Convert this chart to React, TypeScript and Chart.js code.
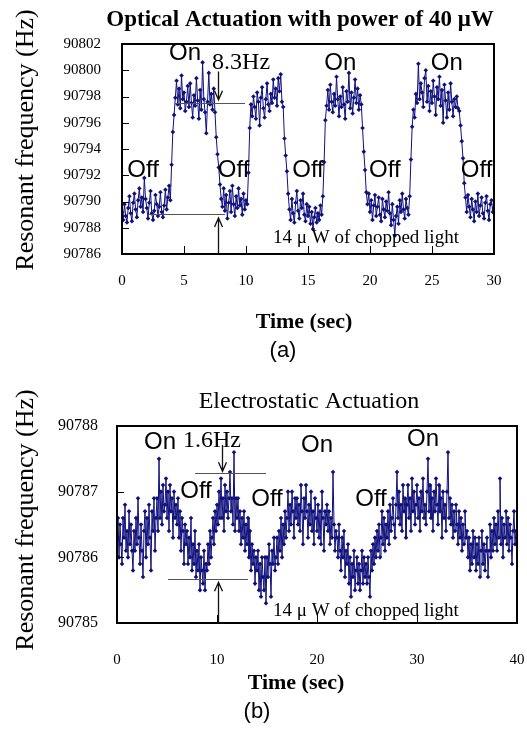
import React, { useEffect, useRef } from "react";
import { Chart, registerables } from "chart.js";

Chart.register(...registerables);

const SERIF = '"Liberation Serif", "Times New Roman", serif';
const SANS = '"Liberation Sans", Arial, sans-serif';
const NAVY = "#10107c";

// ---------- (a) Optical actuation ----------
const topTitle = "Optical Actuation with power of 40 \u03bcW";
const topSampleStep = 0.1; // seconds between samples
const topXTicks = [0, 5, 10, 15, 20, 25, 30];
const topYTicks = [90786, 90788, 90790, 90792, 90794, 90796, 90798, 90800, 90802];
const topFrequency = [
  90789.2, 90788.6, 90789.8, 90788.9, 90788.4, 90789.5, 90790.4, 90789.1, 90788.5, 90789.9,
  90790.6, 90789.4, 90788.8, 90790.1, 90791.0, 90789.6, 90790.3, 90789.2, 90791.8, 90790.2,
  90789.5, 90788.7, 90789.9, 90790.8, 90789.1, 90788.6, 90789.3, 90790.5, 90789.8, 90788.9,
  90789.6, 90790.7, 90789.2, 90788.8, 90789.7, 90790.9, 90789.4, 90790.3, 90791.2, 90790.1,
  90792.8, 90795.3, 90796.6, 90797.9, 90799.2, 90797.4, 90798.6, 90797.1, 90799.6, 90797.8,
  90798.3, 90796.9, 90797.6, 90798.8, 90797.2, 90799.0, 90797.5, 90796.4, 90798.1, 90797.3,
  90799.4, 90797.7, 90796.3, 90798.5, 90797.0, 90800.6, 90797.8, 90796.8, 90795.2, 90797.6,
  90799.8, 90797.4, 90798.2, 90797.0, 90798.6, 90796.8, 90794.9, 90793.6, 90792.6, 90791.3,
  90790.2, 90789.6, 90791.0, 90789.3, 90790.5, 90788.7, 90789.9, 90790.8, 90789.2, 90791.2,
  90789.8, 90788.9, 90790.4, 90789.5, 90791.0, 90789.7, 90790.2, 90789.0, 90790.6, 90789.4,
  90790.1, 90789.8, 90792.2, 90795.6, 90797.4, 90796.5, 90798.0, 90797.2, 90796.3, 90798.3,
  90797.6, 90795.8, 90797.9, 90798.7, 90797.1, 90796.4, 90797.8, 90799.0, 90797.4, 90796.9,
  90798.2, 90797.5, 90799.3, 90797.9, 90798.6, 90797.3, 90799.4, 90798.4, 90799.7, 90797.6,
  90797.2, 90794.8, 90793.5, 90792.3, 90790.6, 90789.4, 90788.6, 90790.2, 90789.1, 90788.4,
  90789.9, 90790.8, 90789.3, 90788.7, 90790.1, 90789.5, 90790.6, 90789.0, 90788.5, 90789.8,
  90788.9, 90789.6, 90788.3, 90789.2, 90787.9, 90788.8, 90789.5, 90788.4, 90789.1, 90788.6,
  90789.7, 90789.0, 90790.4, 90793.0, 90796.2, 90797.3, 90798.5, 90797.0, 90798.9, 90797.6,
  90796.8, 90798.2, 90797.3, 90799.5, 90797.8, 90796.5, 90798.0, 90797.2, 90798.7, 90797.4,
  90796.3, 90798.4, 90797.6, 90799.8, 90797.1, 90798.3, 90796.7, 90797.9, 90799.3, 90797.5,
  90798.6, 90797.0, 90798.1, 90797.4, 90795.6, 90793.8, 90792.4, 90790.7, 90789.8, 90790.6,
  90789.2, 90790.1, 90788.6, 90789.7, 90790.5, 90788.9, 90789.6, 90790.3, 90789.0, 90788.5,
  90790.2, 90789.4, 90788.8, 90790.0, 90789.3, 90790.7, 90789.1, 90788.2, 90789.8, 90788.6,
  90787.4, 90788.9, 90789.6, 90788.3, 90790.1, 90789.2, 90790.6, 90789.4, 90788.7, 90790.2,
  90789.5, 90789.0, 90790.4, 90793.2, 90795.7, 90797.0, 90796.4, 90798.2, 90797.5, 90800.5,
  90797.8, 90799.0, 90798.3, 90797.2, 90799.4, 90800.0, 90797.6, 90798.8, 90796.9, 90798.4,
  90797.5, 90799.2, 90798.0, 90796.6, 90798.7, 90797.8, 90799.5, 90797.3, 90798.5, 90796.0,
  90798.9, 90797.7, 90796.4, 90798.3, 90797.0, 90799.0, 90797.6, 90796.5, 90797.8, 90797.2,
  90798.0, 90797.1, 90796.9, 90795.8, 90794.6, 90793.3, 90791.4, 90790.3, 90789.2, 90790.5,
  90789.6, 90788.8, 90790.2, 90789.4, 90788.5, 90790.0, 90789.2, 90790.6, 90788.9, 90789.7,
  90790.3, 90789.1, 90788.7, 90789.9, 90790.4, 90789.3, 90788.6, 90789.8, 90790.1, 90789.2,
  90789.5,
];
const topStateLabels = [
  { text: "On", t: 5.08, f: 90801.3 },
  { text: "On", t: 17.6, f: 90800.5 },
  { text: "On", t: 26.2, f: 90800.5 },
  { text: "Off", t: 1.7, f: 90792.4 },
  { text: "Off", t: 9.0, f: 90792.4 },
  { text: "Off", t: 15.0, f: 90792.4 },
  { text: "Off", t: 21.2, f: 90792.4 },
  { text: "Off", t: 28.6, f: 90792.4 },
];
const topShift = { text: "8.3Hz", t: 9.6, f: 90800.6 };
const topLevelLines = [
  { t0: 4.27, t1: 9.92, f: 90797.5 },
  { t0: 2.2, t1: 8.3, f: 90789.05 },
];
const topArrows = [
  { t: 7.74, from: 90799.9, to: 90797.75 },
  { t: 7.74, from: 90786.05, to: 90788.75 },
];
const topNote = { text: "14 \u03bc W of chopped light", t: 12.18, f: 90787.2 };

// ---------- (b) Electrostatic actuation ----------
const bottomTitle = "Electrostatic Actuation";
const bottomSampleStep = 0.1;
const bottomXTicks = [0, 10, 20, 30, 40];
const bottomYTicks = [90785, 90786, 90787, 90788];
const bottomFrequency = [
  90786.3, 90786.6, 90786.0, 90786.5, 90786.2, 90785.9, 90786.6, 90786.3, 90786.8, 90786.1,
  90786.4, 90786.0, 90786.7, 90786.2, 90786.5, 90786.1, 90785.8, 90786.4, 90786.1, 90786.6,
  90786.2, 90786.9, 90786.3, 90785.9, 90786.5, 90786.1, 90785.7, 90786.4, 90786.7, 90786.0,
  90786.6, 90786.2, 90786.8, 90786.3, 90785.8, 90786.7, 90786.4, 90786.9, 90786.1, 90786.6,
  90786.9, 90786.4, 90787.5, 90786.6, 90787.0, 90786.5, 90787.1, 90786.7, 90786.8, 90787.2,
  90786.6, 90787.0, 90786.4, 90787.1, 90786.7, 90786.9, 90786.3, 90787.0, 90786.6, 90786.8,
  90786.5, 90786.9, 90786.3, 90786.7, 90786.1, 90786.6, 90786.4, 90785.9, 90786.5, 90786.2,
  90786.4, 90785.9, 90786.3, 90786.0, 90786.6, 90785.8, 90786.2, 90785.9, 90786.4, 90785.7,
  90786.1, 90785.8, 90786.2, 90785.5, 90786.0, 90785.8, 90785.6, 90786.1, 90785.5, 90785.9,
  90785.8, 90786.2, 90785.9, 90786.4, 90786.0, 90786.3, 90786.6, 90786.2, 90786.7, 90786.4,
  90786.8, 90786.5, 90787.0, 90786.6, 90787.2, 90786.6, 90786.9, 90786.4, 90787.1, 90786.7,
  90787.0, 90786.6, 90786.9, 90787.3, 90786.7, 90786.9, 90786.5, 90787.6, 90786.4, 90786.9,
  90786.6, 90786.9, 90786.4, 90786.7, 90786.2, 90786.6, 90786.3, 90786.7, 90786.1, 90786.5,
  90786.2, 90786.6, 90786.0, 90786.4, 90785.8, 90786.2, 90785.9, 90786.1, 90785.6, 90786.0,
  90785.8, 90786.1, 90785.5, 90785.9, 90785.4, 90786.0, 90785.7, 90785.5, 90786.0, 90785.3,
  90786.0, 90785.7, 90786.2, 90785.9, 90785.4, 90786.1, 90785.9, 90786.3, 90785.8, 90786.0,
  90786.3, 90785.9, 90786.4, 90786.1, 90786.6, 90786.0, 90786.5, 90786.2, 90786.7, 90786.3,
  90786.6, 90787.0, 90786.4, 90786.8, 90786.5, 90787.0, 90786.7, 90786.3, 90786.9, 90786.6,
  90786.9, 90786.5, 90786.8, 90786.4, 90787.1, 90786.7, 90786.2, 90786.9, 90786.6, 90787.1,
  90786.7, 90786.3, 90786.8, 90786.5, 90787.0, 90786.4, 90786.7, 90786.2, 90786.9, 90786.6,
  90786.4, 90786.8, 90786.3, 90786.7, 90786.2, 90787.0, 90786.6, 90786.1, 90786.7, 90786.5,
  90786.8, 90786.4, 90786.7, 90786.2, 90786.6, 90786.3, 90787.3, 90786.5, 90786.1, 90786.4,
  90786.3, 90786.0, 90786.5, 90786.1, 90785.8, 90786.3, 90786.0, 90786.4, 90785.7, 90786.1,
  90785.9, 90786.2, 90785.6, 90786.0, 90785.4, 90785.9, 90785.7, 90786.1, 90785.5, 90785.8,
  90786.0, 90785.6, 90785.9, 90785.5, 90785.8, 90786.1, 90785.6, 90786.0, 90785.7, 90785.9,
  90785.6, 90786.0, 90785.7, 90785.4, 90786.1, 90785.8, 90786.2, 90785.9, 90786.3, 90786.0,
  90786.4, 90786.1, 90786.5, 90786.0, 90786.3, 90786.7, 90786.2, 90786.6, 90786.1, 90786.5,
  90786.3, 90786.7, 90786.2, 90786.8, 90786.4, 90786.6, 90786.9, 90786.5, 90786.3, 90786.8,
  90787.3, 90786.6, 90787.0, 90786.5, 90786.8, 90786.4, 90787.1, 90786.7, 90786.9, 90786.3,
  90786.8, 90787.1, 90786.6, 90786.9, 90786.4, 90787.2, 90786.7, 90787.0, 90786.5, 90786.8,
  90787.1, 90786.6, 90786.9, 90786.4, 90787.0, 90786.7, 90787.2, 90786.6, 90786.8, 90786.5,
  90787.0, 90787.5, 90786.7, 90787.1, 90786.6, 90786.9, 90786.4, 90787.0, 90786.7, 90787.2,
  90786.8, 90786.5, 90787.1, 90786.7, 90786.9, 90786.3, 90787.0, 90786.6, 90786.8, 90786.4,
  90787.0, 90787.6, 90786.6, 90786.9, 90786.5, 90786.8, 90786.3, 90786.7, 90786.4, 90786.8,
  90786.5, 90786.2, 90786.7, 90786.3, 90786.6, 90786.1, 90786.5, 90786.2, 90786.7, 90786.3,
  90786.4, 90786.0, 90786.3, 90785.8, 90786.2, 90785.9, 90786.4, 90786.0, 90786.3, 90785.8,
  90786.2, 90785.9, 90786.3, 90785.7, 90786.1, 90786.4, 90785.9, 90786.2, 90785.8, 90786.1,
  90786.3, 90785.7, 90786.1, 90786.5, 90786.0, 90786.4, 90786.1, 90786.6, 90786.2, 90786.5,
  90786.1, 90786.7, 90786.3, 90787.2, 90786.2, 90786.6, 90786.0, 90786.5, 90786.3, 90786.7,
  90786.2, 90786.6, 90786.1, 90786.5, 90786.3, 90785.9, 90786.4, 90786.7, 90786.2, 90786.4,
  90786.3,
];
const bottomStateLabels = [
  { text: "On", t: 4.3, f: 90787.75 },
  { text: "On", t: 20.0, f: 90787.71 },
  { text: "On", t: 30.6, f: 90787.8 },
  { text: "Off", t: 7.9, f: 90787.0 },
  { text: "Off", t: 15.0, f: 90786.89 },
  { text: "Off", t: 25.4, f: 90786.89 },
];
const bottomShift = { text: "1.6Hz", t: 9.5, f: 90787.77 };
const bottomLevelLines = [
  { t0: 7.8, t1: 14.9, f: 90787.28 },
  { t0: 5.1, t1: 13.1, f: 90785.67 },
];
const bottomArrows = [
  { t: 10.5, from: 90787.71, to: 90787.31 },
  { t: 10.1, from: 90785.0, to: 90785.62 },
];
const bottomNote = { text: "14 \u03bc W of chopped light", t: 15.6, f: 90785.18 };

const yAxisTitle = "Resonant frequency (Hz)";
const xAxisTitle = "Time (sec)";

type Panel = {
  width: number;
  height: number;
  values: number[];
  step: number;
  xMin: number;
  xMax: number;
  xStep: number;
  yMin: number;
  yMax: number;
  yStep: number;
  xTickMarks: number[];
  yTickMarks: number[];
  padding: { left: number; right: number; top: number; bottom: number };
  yAxisWidth: number;
  xAxisHeight: number;
  xTickPad: number;
  yTickPad: number;
  xTickSize: number;
  yTickSize: number;
  stateLabels: { text: string; t: number; f: number }[];
  shift: { text: string; t: number; f: number };
  levelLines: { t0: number; t1: number; f: number }[];
  arrows: { t: number; from: number; to: number }[];
  note: { text: string; t: number; f: number };
  texts: { text: string; x: number; y: number; font: string; rotate?: boolean }[];
};

const topPanel: Panel = {
  width: 527,
  height: 370,
  values: topFrequency,
  step: topSampleStep,
  xMin: topXTicks[0],
  xMax: topXTicks[topXTicks.length - 1],
  xStep: 5,
  yMin: topYTicks[0],
  yMax: topYTicks[topYTicks.length - 1],
  yStep: 2,
  xTickMarks: topXTicks.slice(1, -1),
  yTickMarks: topYTicks.slice(1, -1),
  padding: { left: 0, right: 33, top: 44, bottom: 0 },
  yAxisWidth: 122,
  xAxisHeight: 116,
  xTickPad: 18,
  yTickPad: 21,
  xTickSize: 15,
  yTickSize: 15,
  stateLabels: topStateLabels,
  shift: topShift,
  levelLines: topLevelLines,
  arrows: topArrows,
  note: topNote,
  texts: [
    { text: topTitle, x: 300, y: 20, font: `bold 23px ${SERIF}` },
    { text: yAxisTitle, x: 26, y: 140, font: `26px ${SERIF}`, rotate: true },
    { text: xAxisTitle, x: 304, y: 322, font: `bold 22px ${SERIF}` },
    { text: "(a)", x: 283, y: 351, font: `22px ${SANS}` },
  ],
};

const bottomPanel: Panel = {
  width: 527,
  height: 361,
  values: bottomFrequency,
  step: bottomSampleStep,
  xMin: bottomXTicks[0],
  xMax: bottomXTicks[bottomXTicks.length - 1],
  xStep: 10,
  yMin: bottomYTicks[0],
  yMax: bottomYTicks[bottomYTicks.length - 1],
  yStep: 1,
  xTickMarks: bottomXTicks.slice(1, -1),
  yTickMarks: bottomYTicks.slice(1, -1),
  padding: { left: 0, right: 10, top: 56, bottom: 0 },
  yAxisWidth: 117,
  xAxisHeight: 108,
  xTickPad: 28,
  yTickPad: 19,
  xTickSize: 15,
  yTickSize: 16,
  stateLabels: bottomStateLabels,
  shift: bottomShift,
  levelLines: bottomLevelLines,
  arrows: bottomArrows,
  note: bottomNote,
  texts: [
    { text: bottomTitle, x: 309, y: 32, font: `24px ${SERIF}` },
    { text: yAxisTitle, x: 26, y: 150, font: `26px ${SERIF}`, rotate: true },
    { text: xAxisTitle, x: 296, y: 313, font: `bold 22px ${SERIF}` },
    { text: "(b)", x: 257, y: 342, font: `22px ${SANS}` },
  ],
};

function decorPlugin(p: Panel) {
  return {
    id: "decor",
    afterDatasetsDraw(chart: any) {
      const { ctx, chartArea: a, scales } = chart;
      const xs = scales.x;
      const ys = scales.y;
      const X = (t: number) => xs.getPixelForValue(t);
      const Y = (f: number) => ys.getPixelForValue(f);
      ctx.save();
      // inward tick marks
      ctx.strokeStyle = "#000";
      ctx.lineWidth = 1;
      ctx.beginPath();
      for (const t of p.xTickMarks) {
        const px = Math.round(X(t)) + 0.5;
        ctx.moveTo(px, a.bottom);
        ctx.lineTo(px, a.bottom - 8);
      }
      for (const f of p.yTickMarks) {
        const py = Math.round(Y(f)) + 0.5;
        ctx.moveTo(a.left, py);
        ctx.lineTo(a.left + 7, py);
      }
      ctx.stroke();
      // frame
      ctx.lineWidth = 2;
      ctx.strokeRect(a.left, a.top, a.right - a.left, a.bottom - a.top);
      // level lines
      ctx.strokeStyle = "#555";
      ctx.lineWidth = 1.2;
      ctx.beginPath();
      for (const l of p.levelLines) {
        const py = Math.round(Y(l.f)) + 0.5;
        ctx.moveTo(X(l.t0), py);
        ctx.lineTo(X(l.t1), py);
      }
      ctx.stroke();
      // arrows
      ctx.strokeStyle = "#111";
      ctx.lineWidth = 1.3;
      for (const ar of p.arrows) {
        const px = Math.round(X(ar.t)) + 0.5;
        const y0 = Y(ar.from);
        const y1 = Y(ar.to);
        const dir = y1 > y0 ? 1 : -1;
        ctx.beginPath();
        ctx.moveTo(px, y0);
        ctx.lineTo(px, y1);
        ctx.moveTo(px - 4, y1 - dir * 9);
        ctx.lineTo(px, y1);
        ctx.lineTo(px + 4, y1 - dir * 9);
        ctx.stroke();
      }
      // labels
      ctx.fillStyle = "#000";
      ctx.textBaseline = "middle";
      ctx.textAlign = "center";
      ctx.font = `24px ${SANS}`;
      for (const s of p.stateLabels) ctx.fillText(s.text, X(s.t), Y(s.f));
      ctx.font = `24px ${SERIF}`;
      ctx.fillText(p.shift.text, X(p.shift.t), Y(p.shift.f));
      ctx.textAlign = "left";
      ctx.font = `19px ${SERIF}`;
      ctx.fillText(p.note.text, X(p.note.t), Y(p.note.f));
      ctx.restore();
    },
    afterDraw(chart: any) {
      const { ctx } = chart;
      ctx.save();
      ctx.fillStyle = "#000";
      ctx.textAlign = "center";
      ctx.textBaseline = "middle";
      for (const t of p.texts) {
        ctx.font = t.font;
        if (t.rotate) {
          ctx.save();
          ctx.translate(t.x, t.y);
          ctx.rotate(-Math.PI / 2);
          ctx.fillText(t.text, 0, 0);
          ctx.restore();
        } else {
          ctx.fillText(t.text, t.x, t.y);
        }
      }
      ctx.restore();
    },
  };
}

function PanelChart({ panel, top }: { panel: Panel; top: number }) {
  const ref = useRef<HTMLCanvasElement | null>(null);
  useEffect(() => {
    if (!ref.current) return;
    const p = panel;
    const points = p.values.map((f, i) => ({ x: +(i * p.step).toFixed(2), y: f }));
    const chart = new Chart(ref.current, {
      type: "line",
      data: {
        datasets: [
          {
            data: points,
            borderColor: NAVY,
            backgroundColor: NAVY,
            borderWidth: 1,
            pointStyle: "rectRot",
            pointRadius: 2.3,
            pointBorderWidth: 0,
            pointBackgroundColor: NAVY,
            tension: 0,
          },
        ],
      },
      options: {
        responsive: false,
        animation: false,
        devicePixelRatio: 1,
        layout: { padding: p.padding },
        plugins: {
          legend: { display: false },
          title: { display: false },
          tooltip: { enabled: false },
        },
        scales: {
          x: {
            type: "linear",
            min: p.xMin,
            max: p.xMax,
            grid: { display: false, drawTicks: false },
            border: { display: false },
            ticks: {
              stepSize: p.xStep,
              padding: p.xTickPad,
              color: "#000",
              font: { family: SERIF, size: p.xTickSize },
              maxRotation: 0,
              callback: (v: any) => String(v),
            },
            afterFit: (s: any) => {
              s.height = p.xAxisHeight;
              s.paddingLeft = 0;
              s.paddingRight = 0;
            },
          },
          y: {
            type: "linear",
            min: p.yMin,
            max: p.yMax,
            grid: { display: false, drawTicks: false },
            border: { display: false },
            ticks: {
              stepSize: p.yStep,
              padding: p.yTickPad,
              color: "#000",
              font: { family: SERIF, size: p.yTickSize },
              callback: (v: any) => String(v),
            },
            afterFit: (s: any) => {
              s.width = p.yAxisWidth;
              s.paddingTop = 0;
              s.paddingBottom = 0;
            },
          },
        },
      },
      plugins: [decorPlugin(p)],
    } as any);
    return () => chart.destroy();
  }, [panel]);
  return (
    <div style={{ position: "absolute", left: 0, top, width: panel.width, height: panel.height }}>
      <canvas ref={ref} width={panel.width} height={panel.height} style={{ display: "block" }} />
    </div>
  );
}

export default function App() {
  return (
    <div style={{ position: "absolute", left: 0, top: 0, width: 527, height: 731, background: "#fff", overflow: "hidden" }}>
      <PanelChart panel={topPanel} top={0} />
      <PanelChart panel={bottomPanel} top={370} />
    </div>
  );
}
